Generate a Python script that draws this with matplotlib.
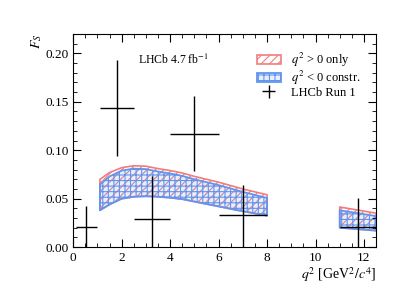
import numpy as np
import matplotlib
matplotlib.use("Agg")
import matplotlib.pyplot as plt
from matplotlib.patches import Patch
from matplotlib.ticker import MultipleLocator

plt.rcParams['font.family'] = 'serif'
plt.rcParams['font.serif'] = ['Liberation Serif', 'DejaVu Serif']
plt.rcParams['mathtext.fontset'] = 'stix'
plt.rcParams['hatch.linewidth'] = 0.8

# LHCb Run 1 measurements
q2_lo = [0.1, 1.1, 2.5, 4.0, 6.0, 11.0]
q2_hi = [0.98, 2.5, 4.0, 6.0, 8.0, 12.5]
q2_mid = [0.54, 1.8, 3.25, 5.0, 7.0, 11.75]
fs_val = [0.021, 0.144, 0.029, 0.117, 0.033, 0.021]
fs_err_dn = [0.021, 0.050, 0.029, 0.038, 0.033, 0.021]
fs_err_up = [0.021, 0.049, 0.044, 0.039, 0.0315, 0.030]

# predicted bands, low-q2 region
band_q2 = [1.1, 1.5, 2.0, 2.5, 3.0, 3.5, 4.0, 4.5, 5.0, 6.0, 7.0, 8.0]
red_hi = [0.070, 0.077, 0.082, 0.084, 0.0835, 0.081, 0.079, 0.0765, 0.073, 0.067, 0.060, 0.054]
red_lo = [0.038, 0.044, 0.050, 0.052, 0.0525, 0.052, 0.051, 0.0495, 0.047, 0.042, 0.037, 0.0325]
blue_hi = [0.0645, 0.073, 0.079, 0.081, 0.0805, 0.078, 0.076, 0.0735, 0.070, 0.064, 0.057, 0.0507]
blue_lo = [0.038, 0.044, 0.050, 0.052, 0.0525, 0.052, 0.051, 0.0495, 0.047, 0.042, 0.037, 0.0325]

# high-q2 region
band2_q2 = [11.0, 12.5]
red2_hi = [0.0414, 0.035]
red2_lo = [0.020, 0.017]
blue2_hi = [0.038, 0.032]
blue2_lo = [0.020, 0.017]

red = '#f27c7c'
blue = '#6294ee'
blue_fill = (0.38, 0.58, 0.93, 0.15)

fig = plt.figure(figsize=(4.07, 2.88), dpi=100)
ax = fig.add_axes([0.18, 0.142, 0.744, 0.740])

for xs, hi, lo in [(band_q2, red_hi, red_lo), (band2_q2, red2_hi, red2_lo)]:
    ax.fill_between(xs, lo, hi, facecolor='none', edgecolor=red, hatch='////', linewidth=1.2)
for xs, hi, lo in [(band_q2, blue_hi, blue_lo), (band2_q2, blue2_hi, blue2_lo)]:
    ax.fill_between(xs, lo, hi, facecolor=blue_fill, edgecolor='none')
    ax.fill_between(xs, lo, hi, facecolor='none', edgecolor=blue, hatch='+++', linewidth=1.3)

xerr = [np.array(q2_mid) - np.array(q2_lo), np.array(q2_hi) - np.array(q2_mid)]
ax.errorbar(q2_mid, fs_val, xerr=xerr, yerr=[fs_err_dn, fs_err_up],
            fmt='none', ecolor='black', elinewidth=1.0, capsize=0)

ax.set_xlim(0, 12.5)
ax.set_ylim(0, 0.22)
ax.xaxis.set_major_locator(MultipleLocator(2))
ax.xaxis.set_minor_locator(MultipleLocator(0.5))
ax.yaxis.set_major_locator(MultipleLocator(0.05))
ax.yaxis.set_minor_locator(MultipleLocator(0.01))
ax.yaxis.set_major_formatter(matplotlib.ticker.FormatStrFormatter('%.2f'))
ax.tick_params(which='both', direction='in', top=True, right=True, labelsize=9.5)
ax.tick_params(which='major', length=6)
ax.tick_params(which='minor', length=3)

ax.set_xlabel(r'$q^2$ [GeV$^2/c^4$]', fontsize=10, loc='right', labelpad=1)
ax.set_ylabel(r'$F_S$', fontsize=10, loc='top')
ax.yaxis.set_label_coords(-0.095, 1.0)

ax.text(0.215, 0.88, r'LHCb 4.7 fb$^{-1}$', transform=ax.transAxes, fontsize=8.5, va='center')

handles = [Patch(facecolor='none', edgecolor=red, hatch='////', linewidth=1.2),
           Patch(facecolor=blue_fill, edgecolor=blue, hatch='+++', linewidth=1.3),
           ax.errorbar([], [], xerr=[], yerr=[], fmt='none', ecolor='black', elinewidth=1.0)]
labels = [r'$q^2$ > 0 only', r'$q^2$ < 0 constr.', 'LHCb Run 1']
ax.legend(handles, labels, loc='upper right', bbox_to_anchor=(0.985, 0.975), frameon=False,
          fontsize=9, handlelength=1.9, handleheight=0.7, labelspacing=0.0, handletextpad=0.8)

fig.savefig('out.png', dpi=100)
